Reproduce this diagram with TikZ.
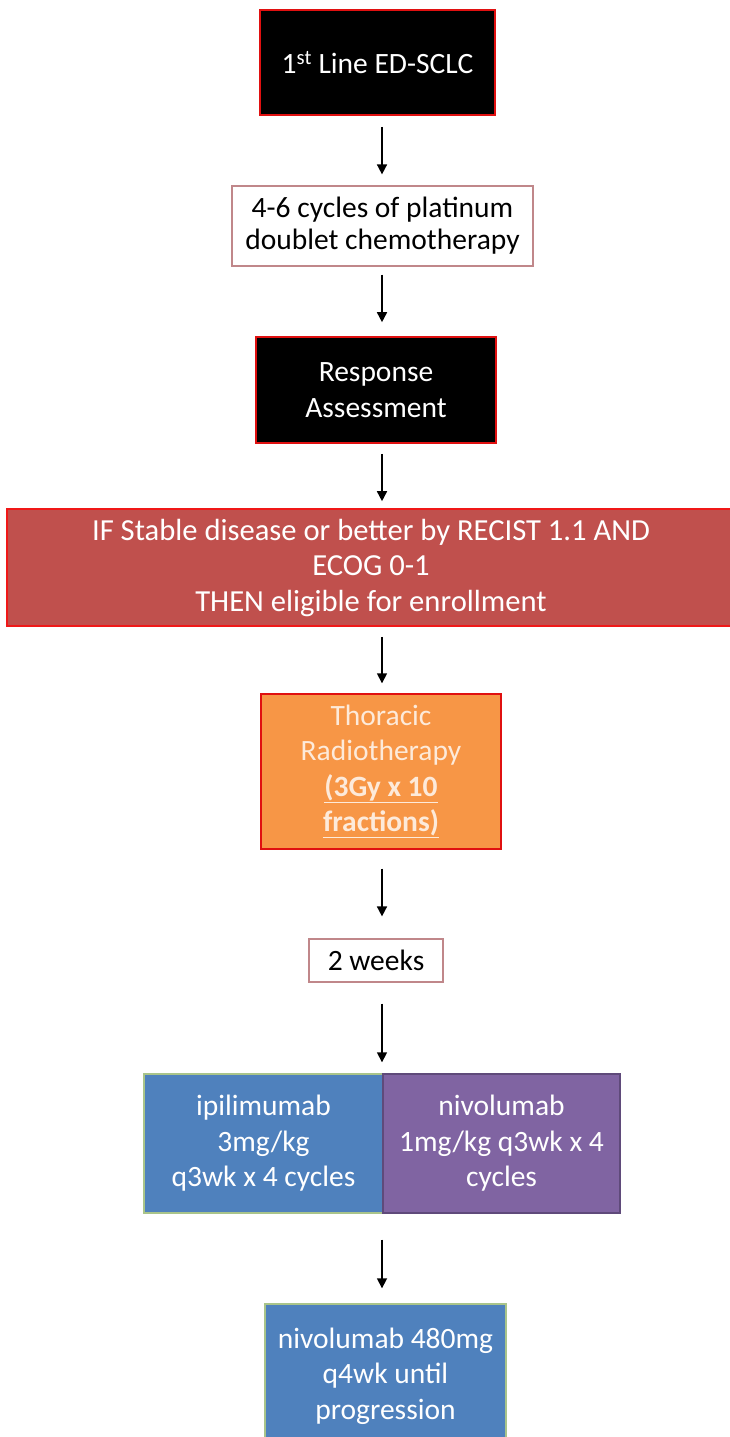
\documentclass[tikz,border=0pt]{standalone}
\usepackage{fontspec}
\setmainfont{Carlito}
\usetikzlibrary{arrows.meta}
\definecolor{boxred}{HTML}{E01010}
\definecolor{rosedge}{HTML}{C0878A}
\definecolor{brick}{HTML}{C0504D}
\definecolor{brickedge}{HTML}{F01818}
\definecolor{tang}{HTML}{F79646}
\definecolor{tangtext}{HTML}{FDEADA}
\definecolor{steel}{HTML}{4F81BD}
\definecolor{steeledge}{HTML}{A9C48A}
\definecolor{plum}{HTML}{8064A2}
\definecolor{plumedge}{HTML}{5F4A7A}
\tikzset{
  every node/.style={inner sep=0pt, align=center, font=\fontsize{29.5}{35.5}\selectfont},
  darkbox/.style={draw=boxred, fill=black, text=white, line width=1.6pt},
  plainbox/.style={draw=rosedge, fill=white, text=black, line width=1.2pt},
  gatebox/.style={draw=brickedge, fill=brick, text=white, line width=1.6pt,
    font=\fontsize{30.6}{35.5}\selectfont},
  rtbox/.style={draw=boxred, fill=tang, text=tangtext, line width=1.4pt},
  drugA/.style={draw=steeledge, fill=steel, text=white, line width=1.4pt},
  drugB/.style={draw=plumedge, fill=plum, text=white, line width=1.4pt},
  flow/.style={draw=black, line width=1.6pt, -{Triangle[width=10pt,length=10pt]}}
}
\begin{document}
\begin{tikzpicture}[x=1pt, y=-1pt]
\useasboundingbox (0,0) rectangle (730,1437);
\coordinate (axis) at (382,0);

\node[darkbox, minimum width=235pt, minimum height=105pt] (first) at (377.5,62.5)
  {1\textsuperscript{st} Line ED-SCLC};
\node[plainbox, minimum width=301pt, minimum height=80pt,
  font=\fontsize{29.5}{32}\selectfont] (chemo) at (382.5,226)
  {4-6 cycles of platinum\\doublet chemotherapy};
\node[darkbox, minimum width=240pt, minimum height=106pt] (resp) at (376,390)
  {Response\\Assessment};
\node[gatebox, minimum width=728pt, minimum height=117pt] (elig) at (371,567.5)
  {IF Stable disease or better by RECIST 1.1 AND\\ECOG 0-1\\THEN eligible for enrollment};
\node[rtbox, minimum width=240pt, minimum height=155pt] (rt) at (381,771.5)
  {Thoracic\\Radiotherapy\\\textbf{\underline{(3Gy x 10}}\\\textbf{\underline{fractions)}}};
\node[plainbox, minimum width=134pt, minimum height=43pt] (wait) at (376,960.5)
  {2 weeks};
\node[drugA, minimum width=239pt, minimum height=139pt] (ipi) at (263.5,1143.5)
  {ipilimumab\\3mg/kg\\q3wk x 4 cycles};
\node[drugB, minimum width=237pt, minimum height=139pt] (nivo) at (501.5,1143.5)
  {nivolumab\\1mg/kg q3wk x 4\\cycles};
\node[drugA, minimum width=241pt, minimum height=144pt] (maint) at (385.5,1376)
  {nivolumab 480mg\\q4wk until\\progression};

\draw[flow, shorten <=11pt, shorten >=11pt] (first.south -| axis) -- (chemo.north -| axis);
\draw[flow, shorten <=8pt, shorten >=14pt] (chemo.south -| axis) -- (resp.north -| axis);
\draw[flow, shorten <=10pt, shorten >=7pt] (resp.south -| axis) -- (elig.north -| axis);
\draw[flow, shorten <=10pt, shorten >=10pt] (elig.south -| axis) -- (rt.north -| axis);
\draw[flow, shorten <=19pt, shorten >=22pt] (rt.south -| axis) -- (wait.north -| axis);
\draw[flow, shorten <=21pt, shorten >=11pt] (wait.south -| axis) -- (ipi.north -| axis);
\draw[flow, shorten <=26pt, shorten >=15pt] (ipi.south -| axis) -- (maint.north -| axis);
\end{tikzpicture}
\end{document}
